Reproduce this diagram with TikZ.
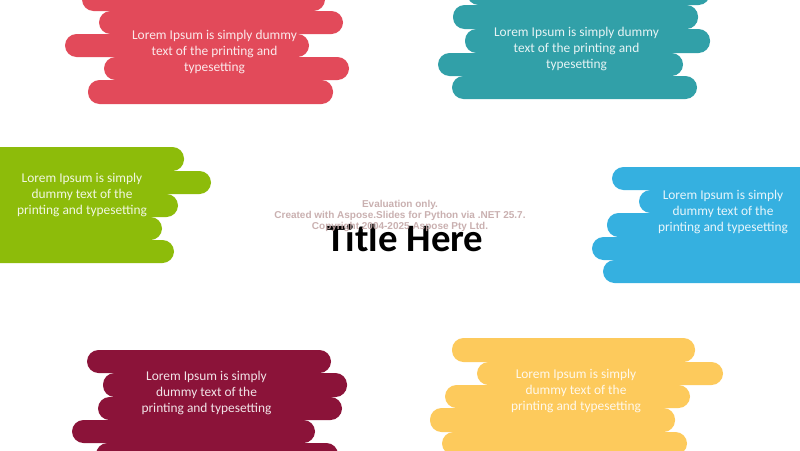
\documentclass[tikz,border=0pt]{standalone}
\usepackage{fontspec}
\setmainfont{Carlito}
\newfontfamily\markfont{Liberation Sans}
\usepackage{tikz}

\definecolor{redbrush}{HTML}{E24A5A}
\definecolor{tealbrush}{HTML}{31A0A8}
\definecolor{greenbrush}{HTML}{8DBC0A}
\definecolor{bluebrush}{HTML}{35B0E0}
\definecolor{maroonbrush}{HTML}{8B1339}
\definecolor{yellowbrush}{HTML}{FDCA5C}
\definecolor{markgray}{HTML}{C4A8A8}

\begin{document}
\begin{tikzpicture}[x=1pt,y=-1pt,
  brush/.style={rounded corners=11.5pt},
  blurb/.style={text=white,text opacity=0.88,align=center,font=\fontsize{13.4}{16.2}\selectfont}]

\clip (0,0) rectangle (800,450);
\fill[white] (0,0) rectangle (800,450);

\fill[brush,redbrush] (82,-12) rectangle (325,11);
\fill[brush,redbrush] (99,11) rectangle (343,34);
\fill[brush,redbrush] (65,34) rectangle (309,57);
\fill[brush,redbrush] (104,57) rectangle (349,80);
\fill[brush,redbrush] (88,80) rectangle (333,104);
\node[blurb] (red) at (214.5,52) {Lorem Ipsum is simply dummy\\text of the printing and\\typesetting};

\fill[brush,tealbrush] (467,-18) rectangle (710,5);
\fill[brush,tealbrush] (453,5) rectangle (698,29);
\fill[brush,tealbrush] (465,29) rectangle (710,53);
\fill[brush,tealbrush] (438,53) rectangle (683,76);
\fill[brush,tealbrush] (452,76) rectangle (697,99);
\node[blurb] (teal) at (576.5,49) {Lorem Ipsum is simply dummy\\text of the printing and\\typesetting};

\fill[brush,greenbrush] (-40,147) rectangle (184,171);
\fill[brush,greenbrush] (-40,171) rectangle (211,194);
\fill[brush,greenbrush] (-40,194) rectangle (178,217);
\fill[brush,greenbrush] (-40,217) rectangle (162,240);
\fill[brush,greenbrush] (-40,240) rectangle (174,263);
\node[blurb] (green) at (82,195) {Lorem Ipsum is simply\\dummy text of the\\printing and typesetting};

\fill[brush,bluebrush] (612,167) rectangle (840,190);
\fill[brush,bluebrush] (639,190) rectangle (840,213);
\fill[brush,bluebrush] (607,213) rectangle (840,237);
\fill[brush,bluebrush] (592,237) rectangle (840,260);
\fill[brush,bluebrush] (603,260) rectangle (840,283);
\node[blurb] (blue) at (723,212) {Lorem Ipsum is simply\\dummy text of the\\printing and typesetting};

\fill[brush,maroonbrush] (87,350) rectangle (331,373);
\fill[brush,maroonbrush] (103,373) rectangle (347,397);
\fill[brush,maroonbrush] (98,397) rectangle (342,420);
\fill[brush,maroonbrush] (72,420) rectangle (315,443);
\fill[brush,maroonbrush] (96,443) rectangle (338,466);
\node[blurb] (maroon) at (206.5,393) {Lorem Ipsum is simply\\dummy text of the\\printing and typesetting};

\fill[brush,yellowbrush] (452,338) rectangle (695,362);
\fill[brush,yellowbrush] (477,362) rectangle (723,385);
\fill[brush,yellowbrush] (445,385) rectangle (690,408);
\fill[brush,yellowbrush] (430,408) rectangle (675,432);
\fill[brush,yellowbrush] (442,432) rectangle (687,455);
\node[blurb] (yellow) at (576,391) {Lorem Ipsum is simply\\dummy text of the\\printing and typesetting};

\node[font=\fontsize{38.8}{40}\selectfont\bfseries] (title) at (405,238) {Title Here};
\node[text=markgray,text opacity=0.9,align=center,font=\markfont\bfseries\fontsize{10}{11}\selectfont] (mark) at (400,216) {Evaluation only.\\Created with Aspose.Slides for Python via .NET 25.7.\\Copyright 2004-2025 Aspose Pty Ltd.};
\end{tikzpicture}
\end{document}
